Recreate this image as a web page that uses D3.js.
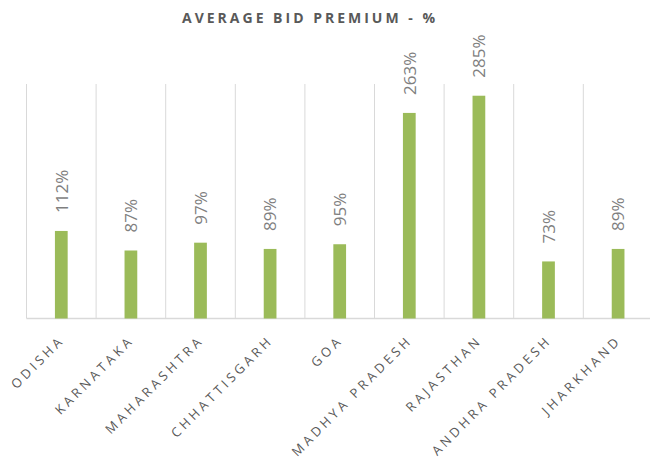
<!DOCTYPE html>
<html>
<head>
<meta charset="utf-8">
<script src="https://cdn.jsdelivr.net/npm/d3@7"></script>
<style>
  html, body { margin: 0; padding: 0; background: #fff; }
  svg { display: block; }
</style>
</head>
<body>
<div id="chart"></div>
<script>
const categories = ["ODISHA", "KARNATAKA", "MAHARASHTRA", "CHHATTISGARH", "GOA", "MADHYA PRADESH", "RAJASTHAN", "ANDHRA PRADESH", "JHARKHAND"];
const values = [112, 87, 97, 89, 95, 263, 285, 73, 89];
const valueLabels = ["112%", "87%", "97%", "89%", "95%", "263%", "285%", "73%", "89%"];
const yDomain = [0, 300];
const title = "AVERAGE BID PREMIUM - %";

const W = 650, H = 460;
const svg = d3.select("#chart").append("svg").attr("width", W).attr("height", H);

const x = d3.scaleBand().domain(categories).range([26.5, 652.9]).padding(0);
const y = d3.scaleLinear().domain(yDomain).range([318.5, 84]);

// title
svg.append("text")
  .attr("x", 182).attr("y", 23)
  .attr("font-family", "'Open Sans', sans-serif")
  .attr("font-size", 14).attr("font-weight", "bold")
  .attr("letter-spacing", 3)
  .attr("fill", "#595959")
  .text(title);

// vertical gridlines at category boundaries
const bounds = categories.map(c => x(c)).concat([x(categories[categories.length - 1]) + x.bandwidth()]);
svg.append("g").selectAll("line").data(bounds).join("line")
  .attr("x1", d => d).attr("x2", d => d)
  .attr("y1", y(yDomain[1])).attr("y2", y(0))
  .attr("stroke", "#d9d9d9").attr("stroke-width", 1);

// axis line
svg.append("line")
  .attr("x1", x.range()[0]).attr("x2", x.range()[1])
  .attr("y1", y(0)).attr("y2", y(0))
  .attr("stroke", "#d9d9d9").attr("stroke-width", 1.5);

const bw = x.bandwidth() * 0.183;
const cx = c => x(c) + x.bandwidth() / 2;

svg.append("g").selectAll("rect").data(categories).join("rect")
  .attr("x", c => cx(c) - bw / 2)
  .attr("width", bw)
  .attr("y", (c, i) => y(values[i]))
  .attr("height", (c, i) => y(0) - y(values[i]))
  .attr("fill", "#9bbb59");

// value labels
svg.append("g").selectAll("text").data(categories).join("text")
  .attr("transform", (c, i) => `translate(${cx(c) + 6.3},${y(values[i]) - 18}) rotate(-90)`)
  .attr("text-anchor", "start")
  .attr("font-family", "'Open Sans', sans-serif")
  .attr("font-size", 17)
  .attr("fill", "#7f7f7f")
  .text((c, i) => valueLabels[i]);

// category labels
svg.append("g").selectAll("text").data(categories).join("text")
  .attr("transform", c => `translate(${cx(c) + 4},341) rotate(-45)`)
  .attr("text-anchor", "end")
  .attr("font-family", "'Open Sans', sans-serif")
  .attr("font-size", 13)
  .attr("letter-spacing", 3.5)
  .attr("fill", "#595959")
  .text(c => c);
</script>
</body>
</html>
